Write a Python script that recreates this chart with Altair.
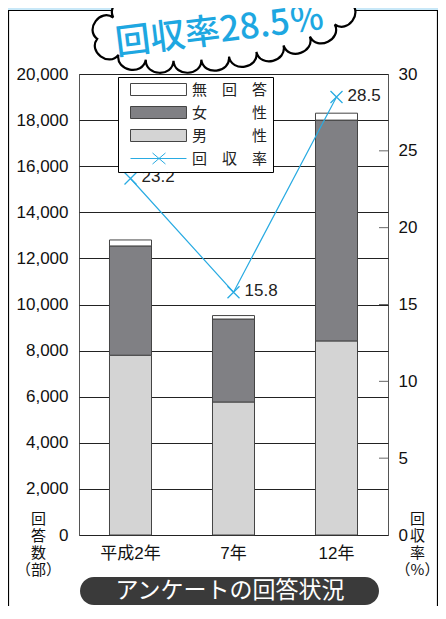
import math
import numpy as np
import pandas as pd
import altair as alt

# ---------------- data ----------------
categories = ["平成2年", "7年", "12年"]
male = [7800, 5770, 8420]
female = [4740, 3600, 9580]
no_answer = [260, 150, 300]
rate = [23.2, 15.8, 28.5]

keys = ["無　回　答", "女　　　性", "男　　　性", "回　収　率"]
left_ticks = list(range(0, 20001, 2000))
right_ticks = [0, 5, 10, 15, 20, 25, 30]
inner_ticks = [5, 10, 15, 20, 25]

CYAN = "#29abe2"
FONT = "Liberation Sans, Noto Sans CJK JP"
JFONT = "Noto Sans CJK JP"

rows = []
for i, c in enumerate(categories):
    rows.append({"cat": c, "k": keys[2], "v": male[i], "o": 0})
    rows.append({"cat": c, "k": keys[1], "v": female[i], "o": 1})
    rows.append({"cat": c, "k": keys[0], "v": no_answer[i], "o": 2})
bar_df = pd.DataFrame(rows)
rate_df = pd.DataFrame({"cat": categories, "r": rate, "k": keys[3]})
one = pd.DataFrame({"_": [0]})

# ---------------- legend (merged fill / stroke / shape) ----------------
RECT = "M-1,-1H8.33V1H-1Z"
LINECROSS = "M-1,0H8.33M2.67,-0.92L4.83,0.92M2.67,0.92L4.83,-0.92"
fill_scale = alt.Scale(domain=keys, range=["#ffffff", "#808084", "#d4d4d4", "transparent"])
stroke_scale = alt.Scale(domain=keys, range=["#444444", "#444444", "#444444", CYAN])
shape_scale = alt.Scale(domain=keys, range=[RECT, RECT, RECT, LINECROSS])


def leg():
    return alt.Legend(title=None, orient="none", legendX=39, legendY=3,
                      fillColor="white", strokeColor="black", padding=5,
                      rowPadding=6, symbolSize=144, symbolStrokeWidth=1,
                      symbolOffset=6, labelOffset=48, labelFontSize=15,
                      labelFont=JFONT, labelColor="#222222", symbolLimit=0)


x_enc = alt.X("cat:N", sort=categories,
              scale=alt.Scale(paddingInner=0.592, paddingOuter=0.296),
              axis=alt.Axis(title=None, ticks=False, domain=False, labelAngle=0,
                            labelFontSize=17, labelFont=FONT, labelColor="#111111",
                            labelPadding=10))

left_axis = alt.Axis(values=left_ticks, labelExpr="format(datum.value, ',')",
                     grid=True, gridColor="#222222",
                     gridWidth=1, ticks=False, domain=False, labelFontSize=17,
                     labelFont=FONT, labelColor="#111111", labelPadding=11,
                     labelFlush=False,
                     title=["回", "答", "数", "（部）"], titleAngle=0,
                     titleAlign="center", titleBaseline="top", titleX=-41,
                     titleY=437, titleFontSize=15, titleFont=JFONT,
                     titleFontWeight="normal", titleLineHeight=17,
                     titleColor="#111111")

right_axis = alt.Axis(orient="right", values=right_ticks,
                      labelExpr="format(datum.value, 'd')", grid=False, ticks=False,
                      domain=False, labelFontSize=17, labelFont=FONT,
                      labelColor="#111111", labelPadding=10, labelFlush=False,
                      title=["回", "収", "率", "（%）"], titleAngle=0,
                      titleAlign="center", titleBaseline="top", titleX=29,
                      titleY=437, titleFontSize=15, titleFont=JFONT,
                      titleFontWeight="normal", titleLineHeight=17,
                      titleColor="#111111")

rscale = alt.Scale(domain=[0, 30], nice=False)

bars = alt.Chart(bar_df).mark_bar(strokeWidth=1).encode(
    x=x_enc,
    y=alt.Y("v:Q", stack="zero", scale=alt.Scale(domain=[0, 20000], nice=False),
            axis=left_axis),
    fill=alt.Fill("k:N", scale=fill_scale, legend=leg()),
    stroke=alt.Stroke("k:N", scale=stroke_scale, legend=leg()),
    order=alt.Order("o:Q"),
)

line = alt.Chart(rate_df).mark_line(strokeWidth=1.2).encode(
    x=alt.X("cat:N", sort=categories),
    y=alt.Y("r:Q", scale=rscale, axis=right_axis),
    stroke=alt.Stroke("k:N", scale=stroke_scale, legend=leg()),
)

pts = alt.Chart(rate_df).mark_point(shape="M-1,-1L1,1M-1,1L1,-1", size=144,
                                    filled=False, stroke=CYAN, strokeWidth=1.3,
                                    opacity=1).encode(
    x=alt.X("cat:N", sort=categories),
    y=alt.Y("r:Q", scale=rscale, axis=None),
)

labels = alt.Chart(rate_df).mark_text(align="left", baseline="middle", dx=11, dy=-1,
                                      fontSize=17, font=FONT, color="#222222").encode(
    x=alt.X("cat:N", sort=categories),
    y=alt.Y("r:Q", scale=rscale, axis=None),
    text=alt.Text("r:Q", format=".1f"),
)

ticks = alt.Chart(pd.DataFrame({"t": inner_ticks})).mark_rule(color="#666666").encode(
    y=alt.Y("t:Q", scale=rscale, axis=None),
    x=alt.value(300),
    x2=alt.value(309),
)

dummy = alt.Chart(rate_df).transform_filter("false").mark_point(
    opacity=1, filled=True).encode(
    shape=alt.Shape("k:N", scale=shape_scale, legend=leg()),
)

# ---------------- decorations ----------------
strip = alt.Chart(one).mark_rect(color="#c8e8f8").encode(
    x=alt.value(-72), x2=alt.value(362), y=alt.value(-66), y2=alt.value(-64))

panel = alt.Chart(one).mark_rect(fillOpacity=0, stroke="black", strokeWidth=1.2).encode(
    x=alt.value(-70.5), x2=alt.value(358.5), y=alt.value(-63.5), y2=alt.value(600))

pill = alt.Chart(one).mark_rect(cornerRadius=14, color="#3a3a3a").encode(
    x=alt.value(1), x2=alt.value(300), y=alt.value(503), y2=alt.value(531))

caption = alt.Chart(one).mark_text(text="アンケートの回答状況", fontSize=23, font=JFONT,
                                   color="white", baseline="middle").encode(
    x=alt.value(151), y=alt.value(517))


def cloud_path(a, b, rot_deg, n, bulge=0.6):
    rot = math.radians(rot_deg)
    ts = np.linspace(0, 2 * math.pi, 4001)
    xs = a * np.cos(ts)
    ys = b * np.sin(ts)
    seg = np.hypot(np.diff(xs), np.diff(ys))
    cum = np.concatenate([[0], np.cumsum(seg)])
    tt = np.interp(np.linspace(0, cum[-1], n + 1), cum, ts)
    pts_ = []
    for t in tt:
        x0, y0 = a * math.cos(t), b * math.sin(t)
        pts_.append((x0 * math.cos(rot) - y0 * math.sin(rot),
                     x0 * math.sin(rot) + y0 * math.cos(rot)))
    d = "M%.1f,%.1f" % pts_[0]
    for i in range(n):
        p, q = pts_[i], pts_[i + 1]
        dx, dy = q[0] - p[0], q[1] - p[1]
        L = math.hypot(dx, dy)
        nx, ny = dy / L, -dx / L
        mx, my = (p[0] + q[0]) / 2, (p[1] + q[1]) / 2
        if nx * mx + ny * my < 0:
            nx, ny = -nx, -ny
        h = bulge * L
        d += "C%.1f,%.1f %.1f,%.1f %.1f,%.1f" % (
            p[0] + nx * h, p[1] + ny * h, q[0] + nx * h, q[1] + ny * h, q[0], q[1])
    return d + "Z"


cloud = alt.Chart(one).mark_point(shape=cloud_path(128, 36, -8, 20), size=4,
                                  filled=True, fill="white", stroke="black",
                                  strokeWidth=2.2, opacity=1).encode(
    x=alt.value(145), y=alt.value(-53))

headline = alt.Chart(one).mark_text(text=f"回収率{rate[-1]}％", angle=353, fontSize=35,
                                    font=JFONT, fontWeight=500, color="#1ea7e1",
                                    align="center", baseline="middle").encode(
    x=alt.value(141), y=alt.value(-43))

chart = alt.layer(strip, panel, bars, line, ticks, pts, labels, dummy,
                  pill, caption, cloud, headline).resolve_scale(
    y="independent"
).properties(
    width=309, height=461,
    padding={"left": 71, "top": 66, "right": 50, "bottom": 71},
    autosize=alt.AutoSizeParams(type="none"),
    background="white",
).configure_view(fill="#dff1fb", stroke="#555555", strokeWidth=1)

chart.save("out.html", embed_options={"renderer": "svg", "actions": False})
